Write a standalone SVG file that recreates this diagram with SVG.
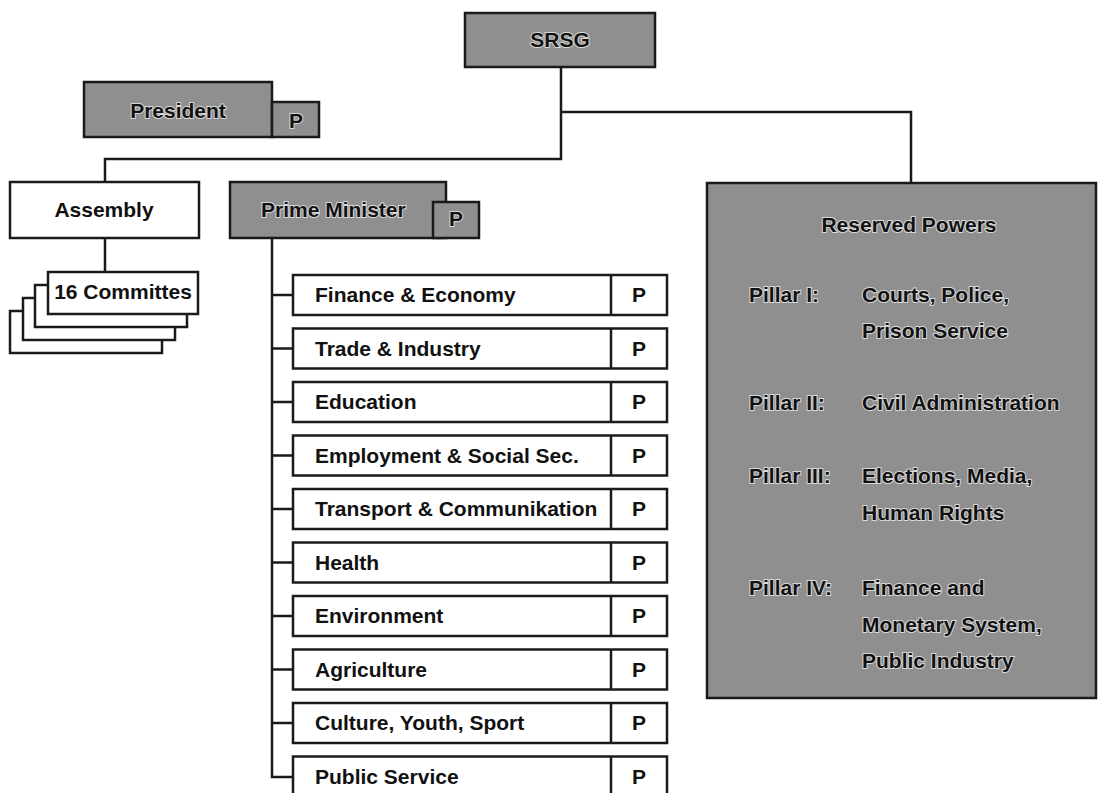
<svg xmlns="http://www.w3.org/2000/svg" width="1098" height="793" viewBox="0 0 1098 793">
<style>
.dark{fill:#8f8f8f;stroke:#1a1a1a;stroke-width:2.5}
.light{fill:#ffffff;stroke:#1a1a1a;stroke-width:2.5}
.conn{fill:none;stroke:#1a1a1a;stroke-width:2.5}
text{font-family:"Liberation Sans",Arial,sans-serif;font-weight:bold;font-size:21px;fill:#111}
.halo{stroke:#d8d8d8;stroke-width:2;paint-order:stroke}
.c{text-anchor:middle}
</style>
<rect width="1098" height="793" fill="#ffffff"/>
<g id="connectors">
<path class="conn" d="M561 67 V159 H105 V182"/>
<path class="conn" d="M561 112 H911 V183"/>
<path class="conn" d="M105 238 V272"/>
<path class="conn" d="M272 238 V777 H293"/>
<path class="conn" d="M272 295 H293 M272 348.5 H293 M272 402 H293 M272 455.5 H293 M272 509 H293 M272 562.5 H293 M272 616 H293 M272 669.5 H293 M272 723 H293"/>
</g>
<g id="srsg"><rect class="dark" x="465" y="13" width="190" height="54"/><text class="c halo" x="560" y="47">SRSG</text></g>
<g id="president"><rect class="dark" x="84" y="82" width="188" height="55"/><text class="c halo" x="178" y="118">President</text>
<rect class="dark" x="272" y="102" width="47" height="35"/><text class="c halo" x="296" y="128">P</text></g>
<g id="assembly"><rect class="light" x="10" y="182" width="189" height="56"/><text class="c" x="104" y="217">Assembly</text></g>
<g id="primeminister"><rect class="dark" x="230" y="182" width="216" height="56"/><text class="halo" x="261" y="217">Prime Minister</text>
<rect class="dark" x="433" y="202" width="46" height="36"/><text class="c halo" x="456" y="226">P</text></g>
<g id="committees">
<rect class="light" x="10" y="311" width="152" height="42"/>
<rect class="light" x="23" y="298" width="152" height="42"/>
<rect class="light" x="35" y="285" width="152" height="42"/>
<rect class="light" x="48" y="272" width="150" height="42"/>
<text class="c" x="123" y="299">16 Committes</text></g>
<g id="m1"><rect class="light" x="293" y="275" width="374" height="40"/><line class="conn" x1="611" y1="275" x2="611" y2="315"/><text x="315" y="302">Finance &amp; Economy</text><text class="c" x="639" y="302">P</text></g>
<g id="m2"><rect class="light" x="293" y="328.5" width="374" height="40"/><line class="conn" x1="611" y1="328.5" x2="611" y2="368.5"/><text x="315" y="355.5">Trade &amp; Industry</text><text class="c" x="639" y="355.5">P</text></g>
<g id="m3"><rect class="light" x="293" y="382" width="374" height="40"/><line class="conn" x1="611" y1="382" x2="611" y2="422"/><text x="315" y="409">Education</text><text class="c" x="639" y="409">P</text></g>
<g id="m4"><rect class="light" x="293" y="435.5" width="374" height="40"/><line class="conn" x1="611" y1="435.5" x2="611" y2="475.5"/><text x="315" y="462.5">Employment &amp; Social Sec.</text><text class="c" x="639" y="462.5">P</text></g>
<g id="m5"><rect class="light" x="293" y="489" width="374" height="40"/><line class="conn" x1="611" y1="489" x2="611" y2="529"/><text x="315" y="516">Transport &amp; Communikation</text><text class="c" x="639" y="516">P</text></g>
<g id="m6"><rect class="light" x="293" y="542.5" width="374" height="40"/><line class="conn" x1="611" y1="542.5" x2="611" y2="582.5"/><text x="315" y="569.5">Health</text><text class="c" x="639" y="569.5">P</text></g>
<g id="m7"><rect class="light" x="293" y="596" width="374" height="40"/><line class="conn" x1="611" y1="596" x2="611" y2="636"/><text x="315" y="623">Environment</text><text class="c" x="639" y="623">P</text></g>
<g id="m8"><rect class="light" x="293" y="649.5" width="374" height="40"/><line class="conn" x1="611" y1="649.5" x2="611" y2="689.5"/><text x="315" y="676.5">Agriculture</text><text class="c" x="639" y="676.5">P</text></g>
<g id="m9"><rect class="light" x="293" y="703" width="374" height="40"/><line class="conn" x1="611" y1="703" x2="611" y2="743"/><text x="315" y="730">Culture, Youth, Sport</text><text class="c" x="639" y="730">P</text></g>
<g id="m10"><rect class="light" x="293" y="756.5" width="374" height="40"/><line class="conn" x1="611" y1="756.5" x2="611" y2="796.5"/><text x="315" y="783.5">Public Service</text><text class="c" x="639" y="783.5">P</text></g>
<g id="reserved">
<rect class="dark" x="707" y="183" width="389" height="515"/>
<text class="c halo" x="909" y="232">Reserved Powers</text>
<text class="halo" x="749" y="302">Pillar I:</text><text class="halo" x="862" y="302">Courts, Police,</text><text class="halo" x="862" y="338">Prison Service</text>
<text class="halo" x="749" y="410">Pillar II:</text><text class="halo" x="862" y="410">Civil Administration</text>
<text class="halo" x="749" y="483">Pillar III:</text><text class="halo" x="862" y="483">Elections, Media,</text><text class="halo" x="862" y="520">Human Rights</text>
<text class="halo" x="749" y="595">Pillar IV:</text><text class="halo" x="862" y="595">Finance and</text><text class="halo" x="862" y="632">Monetary System,</text><text class="halo" x="862" y="668">Public Industry</text>
</g>
</svg>
